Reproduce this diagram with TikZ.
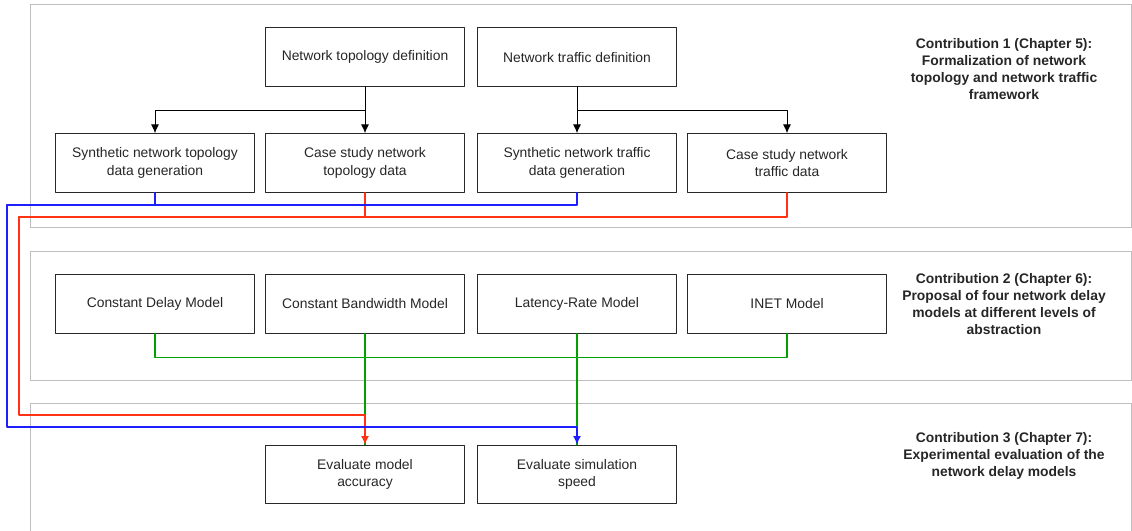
\documentclass[tikz,border=0pt]{standalone}
\usepackage{fontspec}
\setmainfont{Liberation Sans}
\usetikzlibrary{arrows.meta}
\definecolor{groupgray}{RGB}{190,190,190}
\definecolor{boxline}{RGB}{40,40,40}
\definecolor{wireblue}{RGB}{30,30,255}
\definecolor{wirered}{RGB}{255,50,20}
\definecolor{wiregreen}{RGB}{0,160,0}

\begin{document}
\begin{tikzpicture}[line cap=round,line join=round,>={Latex[length=6.5pt,width=6pt]},x=0.75pt,y=-0.75pt,
  step box/.style={draw=boxline,line width=0.75pt,minimum width=149.25pt,minimum height=44pt,align=center,inner sep=2pt,font=\fontsize{10.4}{13}\selectfont,text=black!85},
  contrib/.style={align=center,font=\fontsize{10.4}{12.8}\selectfont\bfseries,text=black!85},
  group/.style={draw=groupgray,line width=0.75pt},
  blackwire/.style={->,line width=0.75pt,color=black},
  bluewire/.style={line width=1.1pt,color=wireblue},
  redwire/.style={line width=1.1pt,color=wirered},
  greenwire/.style={line width=1.1pt,color=wiregreen}]
\useasboundingbox (0,0) rectangle (1132,531);
% contribution groups
\draw [group] (30.6,4.7) rectangle (1131,227.7);
\draw [group] (30.6,251) rectangle (1131,380.7);
\draw [group] (30.6,403.7) rectangle (1131,545);
% contribution 1
\node [step box] (topo) at (365,57.3) {Network topology definition};
\node [step box] (traffic) at (577,57.3) {Network traffic definition};
\node [step box] (synTopo) at (155,163) {Synthetic network topology\\data generation};
\node [step box] (caseTopo) at (365,163) {Case study network\\topology data};
\node [step box] (synTraffic) at (577,163) {Synthetic network traffic\\data generation};
\node [step box] (caseTraffic) at (787,163) {Case study network\\traffic data};
\node [contrib] (contribA) at (1004,69) {Contribution 1 (Chapter 5):\\Formalization of network\\topology and network traffic\\framework};
% contribution 2
\node [step box] (constDelay) at (155,304) {Constant Delay Model};
\node [step box] (constBw) at (365,304) {Constant Bandwidth Model};
\node [step box] (latRate) at (577,304) {Latency-Rate Model};
\node [step box] (inet) at (787,304) {INET Model};
\node [contrib] (contribB) at (1004,304) {Contribution 2 (Chapter 6):\\Proposal of four network delay\\models at different levels of\\abstraction};
% contribution 3
\node [step box] (evalAcc) at (365,474.5) {Evaluate model\\accuracy};
\node [step box] (evalSpeed) at (577,474.5) {Evaluate simulation\\speed};
\node [contrib] (contribC) at (1004,456) {Contribution 3 (Chapter 7):\\Experimental evaluation of the\\network delay models};
% routing points
\coordinate (blueTop) at (7,205);
\coordinate (blueBot) at (7,427);
\coordinate (redTop) at (19,217);
\coordinate (redBot) at (19,415);
% black arrows
\draw [blackwire] (topo.south) -- ++(0,23.3) -| (synTopo.north);
\draw [blackwire] (topo.south) -- (caseTopo.north);
\draw [blackwire] (traffic.south) -- ++(0,23.3) -| (caseTraffic.north);
\draw [blackwire] (traffic.south) -- (synTraffic.north);
% models
\draw [greenwire] (constDelay.south) -- ++(0,23.7) -| (inet.south);
\draw [greenwire] (constBw.south) -- (evalAcc.north);
\draw [greenwire] (latRate.south) -- (evalSpeed.north);
% data to evaluation
\draw [redwire] (caseTopo.south) |- (redTop);
\draw [redwire,->] (caseTraffic.south) |- (redTop) -- (redBot) -| (evalAcc.north);
\draw [bluewire] (synTopo.south) |- (blueTop);
\draw [bluewire,->] (synTraffic.south) |- (blueTop) -- (blueBot) -| (evalSpeed.north);
\end{tikzpicture}
\end{document}
